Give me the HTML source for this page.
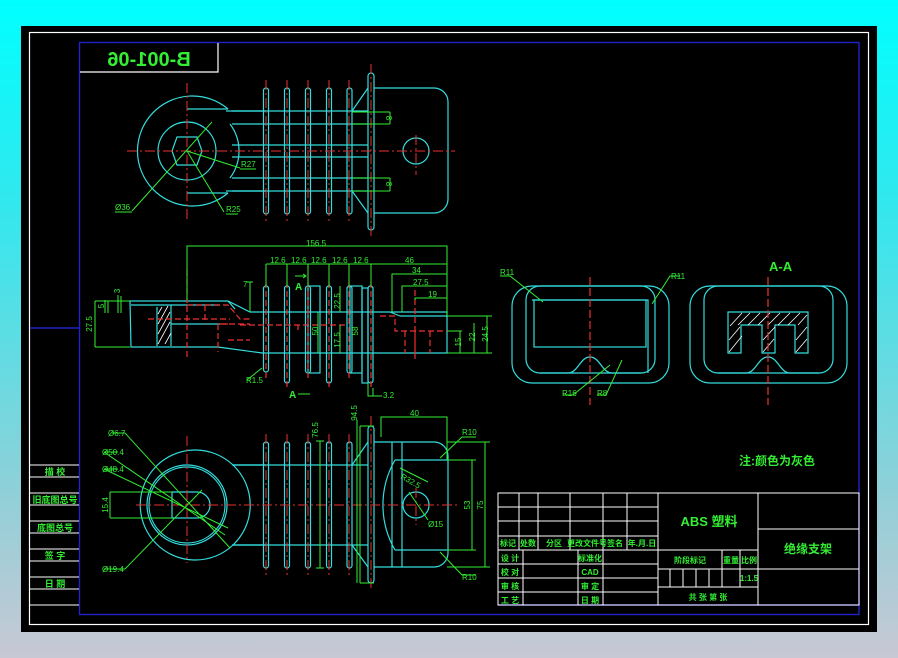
<!DOCTYPE html>
<html><head><meta charset="utf-8"><style>
html,body{margin:0;padding:0}
body{width:898px;height:658px;overflow:hidden;background:linear-gradient(#00ffff 0%,#30e8ee 30%,#90d0d8 75%,#c8c8d4 100%)}
svg{position:absolute;left:0;top:0}
text{font-family:"Liberation Sans","Noto Sans CJK SC",sans-serif}
</style></head><body>
<svg width="898" height="658" viewBox="0 0 898 658">
<rect x="21" y="26" width="856" height="606" fill="#000"/>
<rect x="29.5" y="32.5" width="839" height="592" fill="none" stroke="#fff" stroke-width="1.2"/>
<g stroke="#2222c8" stroke-width="1.4" fill="none">
<rect x="79.5" y="42.5" width="779.5" height="572"/>
<line x1="30" y1="328" x2="79" y2="328"/>
<line x1="498" y1="605" x2="859" y2="605"/>
</g>
<g stroke="#fff" stroke-width="1.2" fill="none"><polyline points="80,72 218,72 218,43"/></g>
<text transform="translate(149,66) scale(-1,1)" text-anchor="middle" font-size="20" font-weight="bold" fill="#33ee33" font-family="Liberation Mono">B-001-06</text>

<g stroke="#fff" stroke-width="1" fill="none">
<line x1="30" y1="465" x2="79" y2="465"/><line x1="30" y1="477" x2="79" y2="477"/>
<line x1="30" y1="493" x2="79" y2="493"/><line x1="30" y1="505" x2="79" y2="505"/>
<line x1="30" y1="521" x2="79" y2="521"/><line x1="30" y1="533" x2="79" y2="533"/>
<line x1="30" y1="549" x2="79" y2="549"/><line x1="30" y1="561" x2="79" y2="561"/>
<line x1="30" y1="577" x2="79" y2="577"/><line x1="30" y1="589" x2="79" y2="589"/>
<line x1="30" y1="605" x2="79" y2="605"/>
</g>
<g fill="#33ee33" font-size="9" text-anchor="middle" font-weight="bold">
<text x="55" y="475">描 校</text><text x="55" y="503">旧底图总号</text><text x="55" y="531">底图总号</text><text x="55" y="559">签 字</text><text x="55" y="587">日 期</text>
</g>

<g stroke="#33dddd" stroke-width="1.2" fill="none">
<path d="M228,109 A55,55 0 1 0 228,193"/>
<line x1="187" y1="109" x2="228" y2="109"/><line x1="187" y1="193" x2="228" y2="193"/>
<path d="M226,111 L266,111 M226,191 L266,191"/>
<circle cx="187" cy="151" r="29"/>
<path d="M230,124 A45,45 0 0 1 230,178"/>
<path d="M177,137 L197,137 L202,151 L197,165 L177,165 L172,151 Z"/>
<path d="M232,124 H368 M232,145 H368 M232,157 H368 M232,178 H368 M232,111 H368 M232,191 H368"/>
<rect x="263.5" y="88" width="5" height="126" rx="2.5"/>
<rect x="284.5" y="88" width="5" height="126" rx="2.5"/>
<rect x="305.5" y="88" width="5" height="126" rx="2.5"/>
<rect x="326.5" y="88" width="5" height="126" rx="2.5"/>
<rect x="347" y="88" width="5" height="126" rx="2.5"/>
<rect x="368" y="73" width="6" height="157" rx="3"/>
<path d="M374,88 H434 A14,14 0 0 1 448,102 V199 A14,14 0 0 1 434,213 H374"/>
<line x1="352" y1="111" x2="368" y2="88"/><line x1="352" y1="191" x2="368" y2="213"/>
<circle cx="416" cy="151" r="13"/>
</g>
<g stroke="#ee3030" stroke-width="1" stroke-dasharray="10,3,2,3" fill="none">
<line x1="127" y1="151" x2="455" y2="151"/><line x1="187" y1="83" x2="187" y2="222"/>
<line x1="266" y1="80" x2="266" y2="222"/><line x1="287" y1="80" x2="287" y2="222"/><line x1="308" y1="80" x2="308" y2="222"/><line x1="329" y1="80" x2="329" y2="222"/><line x1="349" y1="80" x2="349" y2="222"/><line x1="371" y1="64" x2="371" y2="236"/>
<line x1="416" y1="135" x2="416" y2="175"/>
</g>
<g stroke="#33ee33" stroke-width="1" fill="none">
<line x1="132" y1="211" x2="212" y2="122"/><line x1="187" y1="151" x2="224" y2="212"/><line x1="187" y1="151" x2="240" y2="168"/>
<path d="M352,112 H390 M352,124 H390 M390,112 V124 M352,178 H390 M352,191 H390 M390,178 V191"/>
<line x1="115" y1="212" x2="132" y2="212"/><line x1="226" y1="214" x2="238" y2="214"/><line x1="240" y1="169" x2="256" y2="169"/>
</g>
<g fill="#33ee33" font-size="8">
<text x="115" y="210">Ø36</text><text x="226" y="212">R25</text><text x="241" y="167">R27</text>
<text transform="translate(386,118) rotate(90)" text-anchor="middle">8</text>
<text transform="translate(386,184) rotate(90)" text-anchor="middle">8</text>
</g>

<g stroke="#33dddd" stroke-width="1.2" fill="none">
<path d="M130,301 H228 L250,312 H447 V353 H262 L218,347 H131 Z"/>
<line x1="131" y1="305" x2="171" y2="305"/>
<path d="M171,305 H220 M157,307 V346 M171,305 V346 M171,324 H220 M228,301 L235,309"/>
<line x1="400" y1="316" x2="447" y2="316"/>
<line x1="390" y1="312" x2="400" y2="316"/>
<rect x="263.5" y="286" width="5" height="86" rx="2.5"/>
<rect x="284.5" y="286" width="5" height="97" rx="2.5"/>
<rect x="305.5" y="286" width="5" height="87" rx="2.5"/>
<rect x="326.5" y="286" width="5" height="97" rx="2.5"/>
<rect x="347" y="286" width="5" height="87" rx="2.5"/>
<rect x="368" y="286" width="5" height="97" rx="2.5"/>
<rect x="308" y="286" width="12" height="87"/>
<rect x="350" y="286" width="12" height="87"/>
<rect x="362" y="288" width="6" height="95"/>
</g>
<g stroke="#fff" stroke-width="0.8">
<line x1="158" y1="344" x2="170" y2="322"/><line x1="158" y1="334" x2="170" y2="312"/><line x1="158" y1="324" x2="168" y2="306"/><line x1="165" y1="344" x2="171" y2="333"/><line x1="158" y1="314" x2="162" y2="307"/>
</g>
<g stroke="#ee3030" stroke-width="1.2" stroke-dasharray="6,3" fill="none">
<path d="M187,305 H228 L240,319 H250 M148,319 H230 M205,305 V324 M218,324 V352 M187,270 V360 M228,324 H218"/>
<path d="M220,324 H250 M228,340 H250"/>
<path d="M240,325 H345 M298,325 V330 M380,316 H395 V331 H447 M405,331 V353 M415,331 V353 M430,331 V353 M415,290 V360"/>
<line x1="266" y1="282" x2="266" y2="378"/><line x1="287" y1="282" x2="287" y2="388"/><line x1="308" y1="282" x2="308" y2="378"/><line x1="329" y1="282" x2="329" y2="388"/><line x1="349" y1="282" x2="349" y2="378"/><line x1="371" y1="282" x2="371" y2="388"/>
</g>
<g stroke="#33ee33" stroke-width="1" fill="none">
<path d="M187,300 V246 H447 V316"/>
<path d="M266,286 V264 M266,264 H447 M287,264 V286 M308,264 V286 M329,264 V286 M349,264 V286 M371,264 V286"/>
<path d="M392,312 V274 H447 M402,312 V286 H447 M415,300 V298 H447"/>
<path d="M447,316 H492 M447,353 H492 M447,331 H462 M460,331 V353 M474,323 V353 M487,316 V353 M462,316 H477"/>
<path d="M95,301 H130 M95,347 H130 M95,301 V347 M105,300 V313 M108,301 V313 M118,295 V313 M121,296 V313"/>
<path d="M250,282 V312 M247,282 H253"/>
<path d="M340,286 V312 M340,325 V353 M318,312 V353"/>
<path d="M368,383 V396 H382 M373,388 V396"/>
<line x1="247" y1="380" x2="262" y2="368"/>
</g>
<g fill="#33ee33" font-size="8">
<text x="306" y="246">156.5</text>
<text x="270" y="263">12.6</text><text x="291" y="263">12.6</text><text x="311" y="263">12.6</text><text x="332" y="263">12.6</text><text x="353" y="263">12.6</text>
<text x="405" y="263">46</text><text x="412" y="273">34</text><text x="413" y="285">27.5</text><text x="428" y="297">19</text>
<text x="243" y="287">7</text>
<text x="383" y="398">3.2</text><text x="246" y="383">R1.5</text>
<text transform="translate(92,324) rotate(-90)" text-anchor="middle">27.5</text>
<text transform="translate(104,306) rotate(-90)" text-anchor="middle">5</text>
<text transform="translate(120,291) rotate(-90)" text-anchor="middle">3</text>
<text transform="translate(318,331) rotate(-90)" text-anchor="middle">50</text>
<text transform="translate(358,331) rotate(-90)" text-anchor="middle">58</text>
<text transform="translate(340,301) rotate(-90)" text-anchor="middle">22.5</text>
<text transform="translate(340,340) rotate(-90)" text-anchor="middle">17.5</text>
<text transform="translate(461,342) rotate(-90)" text-anchor="middle">15</text>
<text transform="translate(475,337) rotate(-90)" text-anchor="middle">22</text>
<text transform="translate(488,334) rotate(-90)" text-anchor="middle">24.5</text>
<text x="295" y="290" font-size="10" font-weight="bold">A</text>
<text x="289" y="398" font-size="10" font-weight="bold">A</text>
</g>
<path d="M295,276 H305 M303,274 L306,276 L303,278 M298,394 H310" stroke="#33ee33" fill="none"/>

<g stroke="#33dddd" stroke-width="1.2" fill="none">
<rect x="512" y="286" width="157" height="97" rx="20"/>
<path d="M526,300 A14,14 0 0 1 540,286 H641 A14,14 0 0 1 655,300 V359 A14,14 0 0 1 641,373 H540 A14,14 0 0 1 526,359 Z"/>
<path d="M540,373 H568 C578,373 580,357 590,357 C600,357 602,373 612,373 H641"/>
<path d="M532,300 H648 V373"/>
<rect x="534" y="300" width="112" height="47"/>
<rect x="690" y="286" width="157" height="97" rx="20"/>
<path d="M704,300 A14,14 0 0 1 718,286 H819 A14,14 0 0 1 833,300 V359 A14,14 0 0 1 819,373 H718 A14,14 0 0 1 704,359 Z"/>
<path d="M718,373 H746 C756,373 758,357 768,357 C778,357 780,373 790,373 H819"/>
<path d="M728,312 H808 V353 H795 V325 H775 V353 H762 V325 H741 V353 H728 Z"/>
</g>
<g stroke="#fff" stroke-width="0.8">
<path d="M729,352 L742,336 M729,340 L740,327 M730,326 L742,313 M738,325 L750,313 M748,325 L760,313 M758,325 L770,313 M763,352 L774,339 M763,340 L775,327 M768,325 L780,313 M778,325 L790,313 M788,325 L800,313 M796,352 L807,339 M796,340 L807,327 M798,325 L807,315"/>
</g>
<g stroke="#ee3030" stroke-width="1.2" stroke-dasharray="8,3" fill="none">
<line x1="590" y1="277" x2="590" y2="405"/><line x1="768" y1="277" x2="768" y2="405"/>
</g>
<g stroke="#33ee33" stroke-width="1" fill="none">
<path d="M500,276 H510 L543,302 M680,276 H670 L652,304 M563,395 H573 L610,365 M597,395 H606 L622,360"/>
</g>
<g fill="#33ee33" font-size="8">
<text x="500" y="275">R11</text><text x="671" y="279">R11</text><text x="562" y="396">R16</text><text x="597" y="396">R8</text>
<text x="769" y="271" font-size="13" font-weight="bold">A-A</text>
<text x="739" y="465" font-size="12" font-weight="bold">注:颜色为灰色</text>
</g>

<g stroke="#33dddd" stroke-width="1.2" fill="none">
<path d="M233,465 A55,55 0 1 0 233,545"/>
<path d="M233,465 H266 M233,545 H266 M233,465 A55,55 0 0 1 233,545"/>
<circle cx="187" cy="505" r="40"/><circle cx="187" cy="505" r="38"/>
<path d="M172,492 H197 A13,13 0 0 1 197,518 H172 Z"/>
<path d="M232,465 H368 M232,545 H368"/>
<rect x="263.5" y="442" width="5" height="126" rx="2.5"/>
<rect x="284.5" y="442" width="5" height="126" rx="2.5"/>
<rect x="305.5" y="442" width="5" height="126" rx="2.5"/>
<rect x="326.5" y="442" width="5" height="126" rx="2.5"/>
<rect x="347" y="442" width="5" height="126" rx="2.5"/>
<rect x="368" y="426" width="6" height="157" rx="3"/>
<line x1="352" y1="465" x2="368" y2="442"/><line x1="352" y1="545" x2="368" y2="567"/>
<path d="M374,442 H434 A14,14 0 0 1 448,456 V553 A14,14 0 0 1 434,567 H374"/>
<path d="M392,442 V567 M402,442 V567 M395,460 H447 M395,550 H447 M395,460 A90,90 0 0 0 395,550"/>
<circle cx="416" cy="505" r="13"/>
</g>
<g stroke="#ee3030" stroke-width="1" stroke-dasharray="10,3,2,3" fill="none">
<line x1="136" y1="505" x2="460" y2="505"/><line x1="187" y1="436" x2="187" y2="563"/>
<line x1="266" y1="434" x2="266" y2="575"/><line x1="287" y1="434" x2="287" y2="575"/><line x1="308" y1="434" x2="308" y2="575"/><line x1="329" y1="434" x2="329" y2="575"/><line x1="349" y1="434" x2="349" y2="575"/><line x1="371" y1="416" x2="371" y2="590"/>
<line x1="416" y1="488" x2="416" y2="525"/>
</g>
<g stroke="#33ee33" stroke-width="1" fill="none">
<path d="M125,433 L230,548 M104,452 L225,535 M104,469 L228,528 M125,569 L202,490 M112,433 H125 M104,452 H118 M104,469 H118 M104,569 H125"/>
<path d="M110,492 H172 M110,518 H172 M110,492 V518"/>
<path d="M320,441 V568 M316,441 H324 M316,568 H324 M360,426 V583 M360,583 H374 M360,426 H374 M357,420 V583"/>
<path d="M381,437 V417 H447 V460 M447,442 H490 M447,567 H490 M447,460 H476 M447,550 H476 M472,460 V550 M485,442 V567"/>
<path d="M400,468 L428,482 M409,492 L428,520 M440,458 L462,437 H476 M440,552 L462,575 H476"/>
</g>
<g fill="#33ee33" font-size="8">
<text x="108" y="436">Ø6.7</text><text x="102" y="455">Ø50.4</text><text x="102" y="472">Ø48.4</text><text x="102" y="572">Ø19.4</text>
<text transform="translate(108,505) rotate(-90)" text-anchor="middle">15.4</text>
<text transform="translate(318,430) rotate(-90)" text-anchor="middle">76.5</text>
<text transform="translate(357,413) rotate(-90)" text-anchor="middle">94.5</text>
<text x="410" y="416">40</text><text x="462" y="435">R10</text><text x="462" y="580">R10</text>
<text x="400" y="478" transform="rotate(30 400 478)">R32.5</text><text x="428" y="527">Ø15</text>
<text transform="translate(470,505) rotate(-90)" text-anchor="middle">53</text>
<text transform="translate(483,505) rotate(-90)" text-anchor="middle">75</text>
</g>

<g stroke="#fff" stroke-width="1" fill="none">
<rect x="498" y="493" width="361" height="112"/>
<path d="M498,507 H658 M498,521 H658 M498,536 H658 M498,550 H758 M498,564 H658 M498,578 H658 M498,592 H658"/>
<path d="M519,493 V550 M538,493 V550 M570,493 V550 M603,493 V550 M627,493 V550 M658,493 V605"/>
<path d="M523,550 V605 M578,550 V605 M603,550 V605"/>
<path d="M758,493 V605 M758,529 H859 M758,569 H859 M722,550 V587 M740,550 V587 M658,569 H758 M658,587 H758 M670,569 V587 M683,569 V587 M696,569 V587 M709,569 V587"/>
</g>
<g fill="#33ee33" font-size="8" font-weight="bold" text-anchor="middle">
<text x="508" y="546">标记</text><text x="528" y="546">处数</text><text x="554" y="546">分区</text><text x="587" y="546">更改文件号</text><text x="615" y="546">签名</text><text x="642" y="546">年.月.日</text>
<text x="510" y="561">设 计</text><text x="510" y="575">校 对</text><text x="510" y="589">审 核</text><text x="510" y="603">工 艺</text>
<text x="590" y="561">标准化</text><text x="590" y="575">CAD</text><text x="590" y="589">审 定</text><text x="590" y="603">日 期</text>
<text x="709" y="526" font-size="13">ABS 塑料</text>
<text x="690" y="563">阶段标记</text><text x="731" y="563">重量</text><text x="749" y="563">比例</text>
<text x="749" y="581">1:1.5</text><text x="708" y="600">共 张 第 张</text>
<text x="808" y="553" font-size="12">绝缘支架</text>
</g>
</svg>
</body></html>
